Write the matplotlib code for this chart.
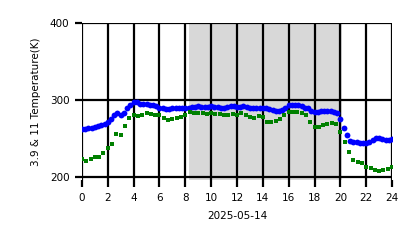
import numpy as np
import matplotlib
matplotlib.use("Agg")
import matplotlib.pyplot as plt

# 3.9 um channel, every 15 min (blue)
t39_step = 0.25
temp_39 = [262, 262, 263, 264, 265, 266, 267, 269, 271, 275, 281, 283,
           280, 283, 289, 294, 298, 297, 295, 295, 295, 294, 293, 292,
           290, 289, 288, 288, 289, 289, 289, 289, 290, 290, 291, 291,
           292, 291, 291, 291, 292, 291, 291, 290, 290, 291, 292, 292,
           291, 291, 292, 291, 290, 290, 290, 289, 289, 289, 288, 287,
           286, 286, 287, 289, 293, 294, 294, 293, 292, 290, 289, 286,
           285, 285, 286, 286, 286, 286, 285, 283, 275, 263, 254, 247,
           245, 245, 244, 244, 244, 245, 248, 250, 250, 249, 248, 248,
           249]

# 11 um channel, every 20 min (green)
t11_step = 1 / 3
temp_11 = [223, 221, 224, 226, 226, 231, 238, 243, 256, 254, 266, 276,
           281, 279, 281, 283, 282, 281, 280, 276, 274, 275, 277, 278,
           280, 284, 283, 283, 283, 282, 283, 282, 282, 281, 281, 282,
           281, 283, 280, 278, 277, 279, 278, 272, 272, 273, 275, 280,
           284, 285, 285, 283, 280, 272, 265, 265, 268, 269, 270, 269,
           258, 245, 233, 222, 219, 218, 213, 212, 209, 208, 209, 210,
           213]

night_start, night_end = 8.25, 20.15
xticks = list(range(0, 25, 2))
yticks = [200, 300, 400]
date_label = "2025-05-14"

hours_39 = np.arange(len(temp_39)) * t39_step
hours_11 = np.arange(len(temp_11)) * t11_step

fig = plt.figure(figsize=(4.18, 2.48), dpi=100)
ax = fig.add_axes([0.196, 0.274, 0.742, 0.633])

ax.axvspan(night_start, night_end, color="gray", alpha=0.3, lw=0, zorder=0)
ax.plot(hours_39, temp_39, "o", color="blue", ms=4.2, mew=0, zorder=3)
ax.plot(hours_11, temp_11, "s", color="green", ms=2.8, mew=0, zorder=3)

ax.set_xlim(0, 24)
ax.set_ylim(196, 400)
ax.set_xticks(xticks)
ax.set_yticks(yticks)
ax.grid(True, color="black", lw=1.6, zorder=1)
ax.set_axisbelow(True)
for s in ax.spines.values():
    s.set_visible(False)
ax.tick_params(length=5, width=1.6, labelsize=7.5, pad=4)
ax.set_xlabel(date_label, fontsize=7.5, labelpad=6)
ax.set_ylabel("3.9 & 11 Temperature(K)", fontsize=7.5, labelpad=6)

fig.savefig("out.png", dpi=100)
